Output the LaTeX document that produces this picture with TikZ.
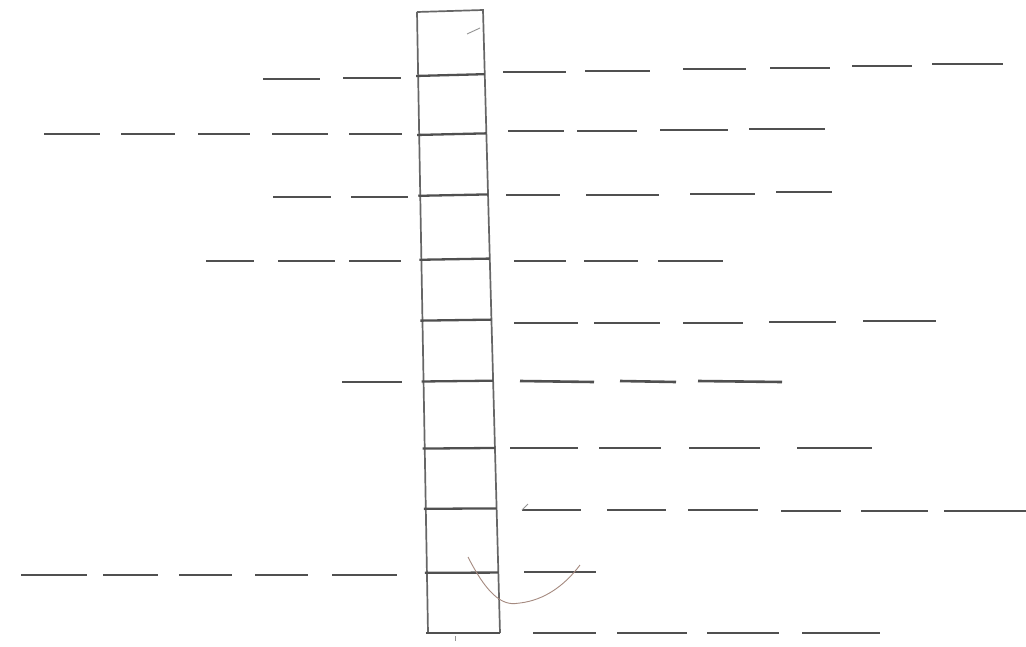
\documentclass[tikz,border=0pt]{standalone}
\usetikzlibrary{calc}
\definecolor{pencil}{HTML}{666666}
\definecolor{dashgray}{HTML}{505050}
\definecolor{redpen}{HTML}{A58A80}
\tikzset{
  colline/.style={draw=pencil, line width=1.7pt},
  rungline/.style={draw=dashgray, line width=2.3pt},
  dashstroke/.style={draw=dashgray, line width=2.6pt},
  faintmark/.style={draw=pencil!70, line width=0.9pt},
  curvemark/.style={draw=redpen, line width=0.9pt}
}
\begin{document}
\begin{tikzpicture}[x=1pt,y=-1pt]
\useasboundingbox (0,0) rectangle (1026,646);
\fill[white] (0,0) rectangle (1026,646);
% column corners
\coordinate (TL) at (417,12);
\coordinate (TR) at (483,10);
\coordinate (BR) at (500,633);
\coordinate (BL) at (428,633);
\draw[colline] (TL) -- (TR) -- (BR);
\draw[colline] (TL) -- (BL);
% rungs (t = fraction down the column)
\foreach \t in {0.103,0.198,0.296,0.399,0.497,0.595,0.703,0.800,0.903} {
  \draw[rungline] ($(TL)!\t!(BL)+(-2,0)$) -- ($(TR)!\t!(BR)$);
}
\draw[rungline] ($(BL)+(-2,0)$) -- (BR);
% row 1
\foreach \a/\b/\y in {263/320/79,343/401/78}
  \draw[dashstroke] (\a,\y) -- (\b,\y);
\foreach \a/\b/\y in {503/566/72,585/650/71,683/746/69,770/830/68,852/912/66,932/1003/64}
  \draw[dashstroke] (\a,\y) -- (\b,\y);
% row 2
\foreach \a/\b in {44/100,121/175,198/250,272/328,349/402}
  \draw[dashstroke] (\a,134) -- (\b,134);
\foreach \a/\b/\y in {508/564/131,577/637/131,660/728/130,749/825/129}
  \draw[dashstroke] (\a,\y) -- (\b,\y);
% row 3
\foreach \a/\b in {273/331,351/408}
  \draw[dashstroke] (\a,197) -- (\b,197);
\foreach \a/\b/\y in {506/560/195,586/659/195,690/755/194,776/832/192}
  \draw[dashstroke] (\a,\y) -- (\b,\y);
% row 4
\foreach \a/\b in {206/254,278/335,349/401}
  \draw[dashstroke] (\a,261) -- (\b,261);
\foreach \a/\b in {514/566,584/638,658/723}
  \draw[dashstroke] (\a,261) -- (\b,261);
% row 5
\foreach \a/\b/\y in {514/578/323,594/660/323,683/743/323,769/836/322,863/936/321}
  \draw[dashstroke] (\a,\y) -- (\b,\y);
% row 6
\draw[dashstroke] (342,382) -- (402,382);
\foreach \a/\b in {520/594,620/676,698/782}
  \draw[dashstroke] (\a,381) -- (\b,382);
% row 7
\foreach \a/\b in {510/578,599/661,689/760,797/872}
  \draw[dashstroke] (\a,448) -- (\b,448);
% row 8
\foreach \a/\b/\y in {522/581/510,607/666/510,688/758/510,781/841/511,861/928/511,944/1026/511}
  \draw[dashstroke] (\a,\y) -- (\b,\y);
\draw[faintmark] (522,510) -- (528,504);
% row 9
\foreach \a/\b in {21/87,103/158,179/232,255/308,332/397}
  \draw[dashstroke] (\a,575) -- (\b,575);
\draw[dashstroke] (524,572) -- (596,572);
% row 10
\foreach \a/\b in {533/596,617/687,707/779,802/880}
  \draw[dashstroke] (\a,633) -- (\b,633);
% small marks
\draw[faintmark] (467,34) -- (480,28);
\draw[faintmark] (455,636) -- (455,641);
\draw[curvemark] (468,557) .. controls (490,600) and (505,606) .. (520,603)
  .. controls (545,600) and (565,585) .. (580,565);
\end{tikzpicture}
\end{document}
